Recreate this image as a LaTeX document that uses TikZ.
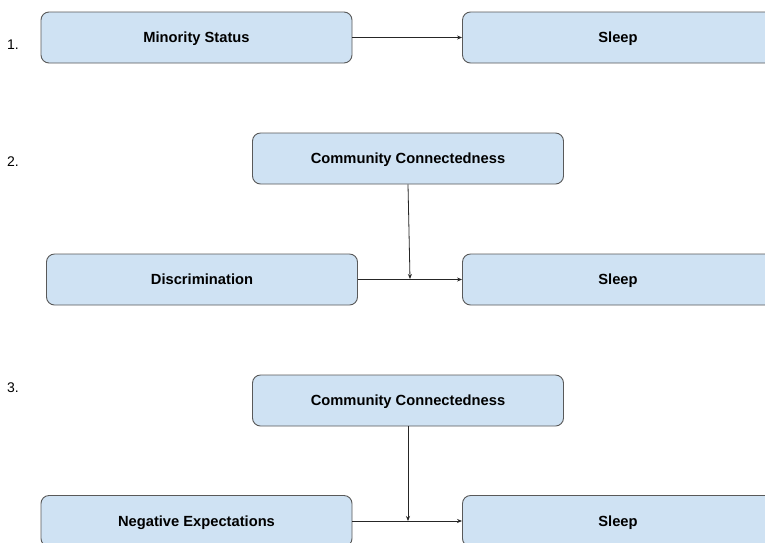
\documentclass[tikz,border=0pt]{standalone}
\usepackage{fontspec}
\setmainfont{Liberation Sans}
\usetikzlibrary{arrows.meta}
\definecolor{boxfill}{HTML}{CFE2F3}
\definecolor{boxline}{HTML}{595959}
\tikzset{
  vbox/.style={draw=boxline, line width=0.9pt, fill=boxfill, rounded corners=8pt,
    minimum height=51pt, inner sep=0pt, text height=13pt, text depth=2.4pt,
    font=\fontsize{14.7}{17}\selectfont\bfseries},
  wbox/.style={vbox, minimum width=311pt},
  conn/.style={draw=black!85, line width=0.8pt, -{Stealth[length=5pt,width=4pt]}},
  numlbl/.style={inner sep=0pt, font=\fontsize{14}{16}\selectfont}
}
\begin{document}
\begin{tikzpicture}[x=1pt,y=-1pt]
\useasboundingbox (0,0) rectangle (765,542);
\clip (0,0) rectangle (765,542);
\fill[white] (0,0) rectangle (765,542);
% 1
\node[numlbl] (n1) at (13,45) {1.};
\node[wbox] (ms) at (196.5,37.5) {Minority Status};
\node[wbox] (s1) at (618,37.5) {Sleep};
\draw[conn] (ms.east) -- (s1.west);
% 2
\node[numlbl] (n2) at (13,162) {2.};
\node[wbox] (cc2) at (408,158.5) {Community Connectedness};
\node[wbox] (dis) at (202,279.5) {Discrimination};
\node[wbox] (s2) at (618,279.5) {Sleep};
\draw[conn] (dis.east) -- (s2.west);
\coordinate (j2) at (410,279);
\draw[conn] (cc2.south) -- (j2);
% 3
\node[numlbl] (n3) at (13,388) {3.};
\node[wbox] (cc3) at (408,400.5) {Community Connectedness};
\node[wbox] (neg) at (196.5,521) {Negative Expectations};
\node[wbox] (s3) at (618,521) {Sleep};
\draw[conn] (neg.east) -- (s3.west);
\coordinate (j3) at (408,521);
\draw[conn] (cc3.south) -- (j3);
\end{tikzpicture}
\end{document}
